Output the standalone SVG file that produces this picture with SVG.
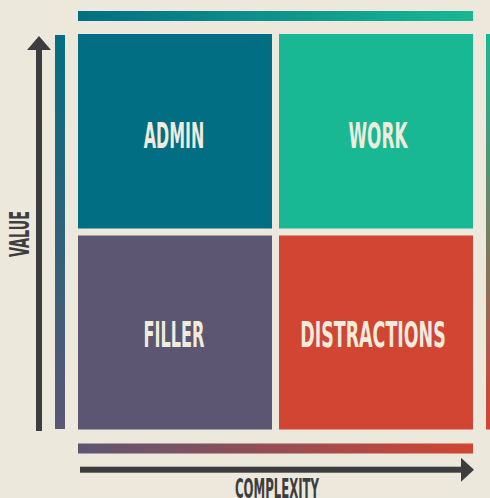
<svg xmlns="http://www.w3.org/2000/svg" width="490" height="498" viewBox="0 0 490 498">
<defs>
<linearGradient id="gTop" x1="0" y1="0" x2="1" y2="0"><stop offset="0" stop-color="#026E83"/><stop offset="1" stop-color="#18B895"/></linearGradient>
<linearGradient id="gBot" x1="0" y1="0" x2="1" y2="0"><stop offset="0" stop-color="#5C5673"/><stop offset="1" stop-color="#D14532"/></linearGradient>
<linearGradient id="gLeft" x1="0" y1="0" x2="0" y2="1"><stop offset="0" stop-color="#026E83"/><stop offset="1" stop-color="#5C5673"/></linearGradient>
<linearGradient id="gRight" x1="0" y1="0" x2="0" y2="1"><stop offset="0" stop-color="#18B895"/><stop offset="1" stop-color="#D14532"/></linearGradient>
<style>
.q{font-family:"DejaVu Sans Condensed","Liberation Sans Narrow","DejaVu Sans",sans-serif;font-stretch:condensed;font-weight:bold;font-size:35px;fill:#EFEBDD;text-anchor:middle}
.ax{font-family:"DejaVu Sans Condensed","Liberation Sans Narrow","DejaVu Sans",sans-serif;font-stretch:condensed;font-weight:bold;font-size:26px;fill:#3D3D40;text-anchor:middle}
.arrow{fill:#3D3D40}
</style>
</defs>
<rect width="490" height="498" fill="#ECE9DC"/>
<g id="bars">
<rect x="78" y="11" width="395" height="10" fill="url(#gTop)"/>
<rect x="78" y="443.5" width="395" height="10" fill="url(#gBot)"/>
<rect x="55" y="35" width="10" height="394" fill="url(#gLeft)"/>
<rect x="486" y="34" width="10" height="395.5" fill="url(#gRight)"/>
</g>
<g id="admin">
<rect x="78" y="34" width="194" height="194.5" fill="#026E83"/>
<text class="q" x="174" y="147.5" textLength="60.5" lengthAdjust="spacingAndGlyphs">ADMIN</text>
</g>
<g id="work">
<rect x="279" y="34" width="194" height="194.5" fill="#18B895"/>
<text class="q" x="378" y="147.5" textLength="59" lengthAdjust="spacingAndGlyphs">WORK</text>
</g>
<g id="filler">
<rect x="78" y="235.5" width="194" height="194" fill="#5C5673"/>
<text class="q" x="174" y="347.3" textLength="61" lengthAdjust="spacingAndGlyphs">FILLER</text>
</g>
<g id="distractions">
<rect x="279" y="235.5" width="194" height="194" fill="#D14532"/>
<text class="q" x="373" y="347.3" textLength="145.5" lengthAdjust="spacingAndGlyphs">DISTRACTIONS</text>
</g>
<g id="connectors">
<rect class="arrow" x="36" y="48" width="6" height="383"/>
<polygon class="arrow" points="39,36 51,50 27,50"/>
<rect class="arrow" x="80" y="466.7" width="383" height="6"/>
<polygon class="arrow" points="474,469.7 461,457.7 461,481.7"/>
</g>
<g id="labels">
<text class="ax" x="277" y="497.5" textLength="84" lengthAdjust="spacingAndGlyphs">COMPLEXITY</text>
<text class="ax" transform="translate(28.5,234) rotate(-90)" x="0" y="0" textLength="46" lengthAdjust="spacingAndGlyphs">VALUE</text>
</g>
</svg>
